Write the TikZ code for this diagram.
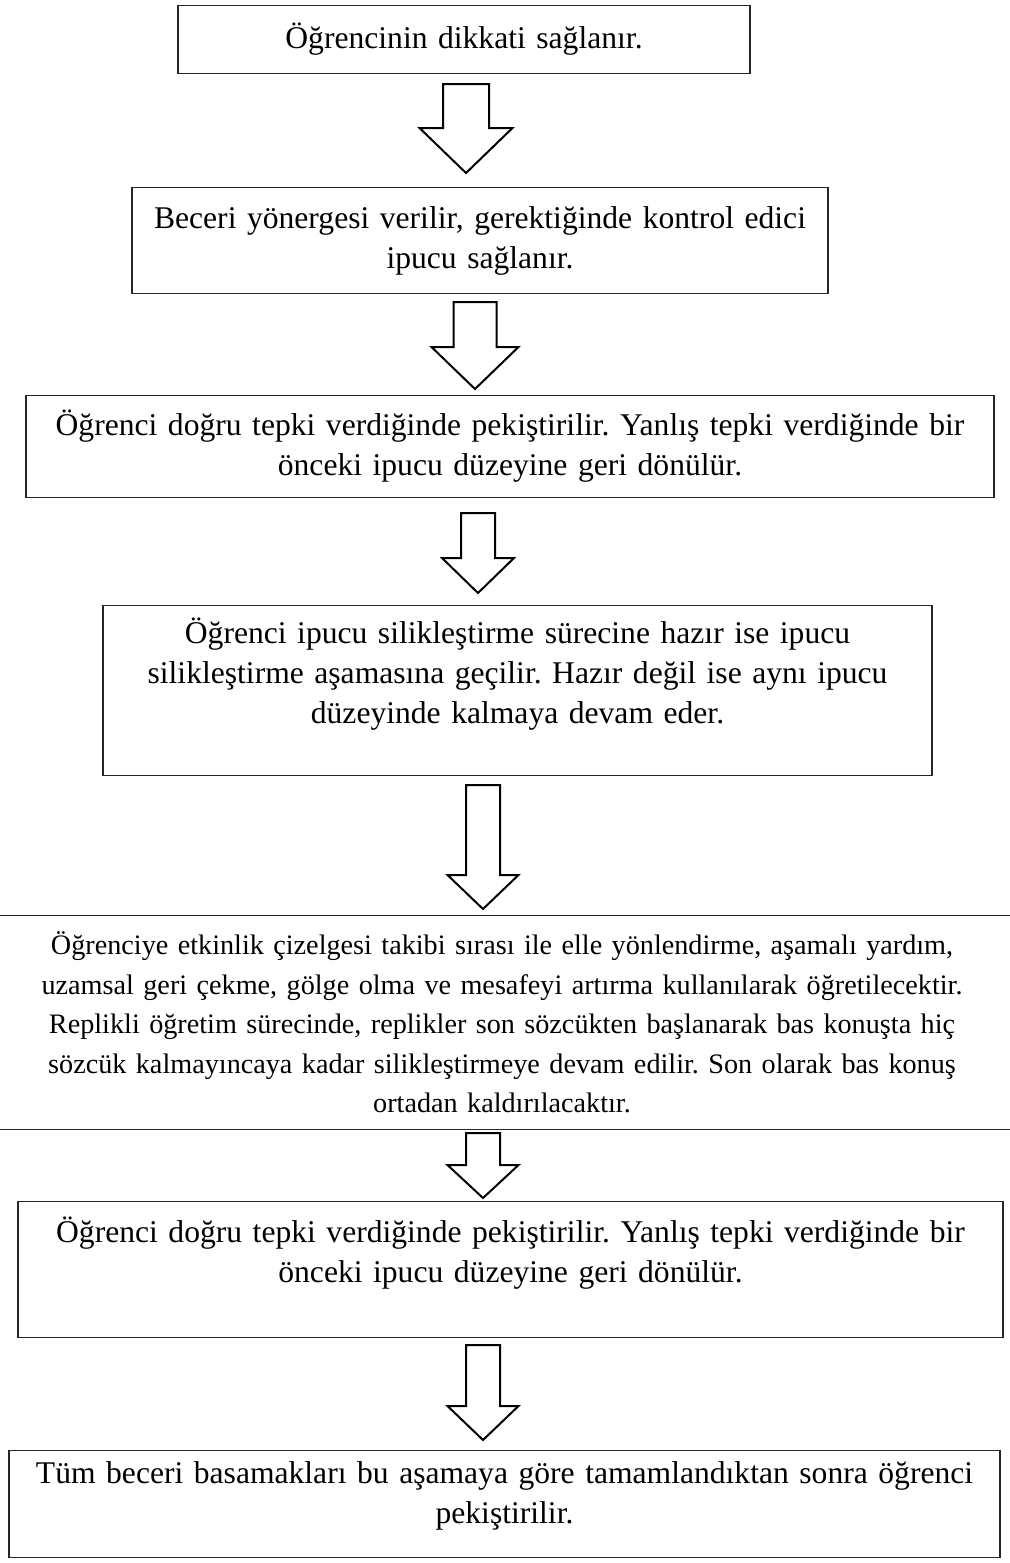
\documentclass[tikz,border=0pt]{standalone}
\usepackage{fontspec}
\setmainfont{Liberation Serif}
\usetikzlibrary{calc}
\frenchspacing

% hollow block arrow between two named coordinates
\newcommand{\blockarrow}[5]{%
  \draw[blockarr] ($(#1)+(-#3,0)$) -- ($(#1)+(#3,0)$) -- ($(#2)+(#3,-#5)$)
    -- ($(#2)+(#4,-#5)$) -- (#2) -- ($(#2)+(-#4,-#5)$) -- ($(#2)+(-#3,-#5)$) -- cycle;}

\begin{document}
\begin{tikzpicture}[
    x=0.5pt, y=-0.5pt,
    every node/.style={font=\fontsize{15.8}{20}\selectfont},
    stepbox/.style={rectangle, draw=black!85, line width=0.6pt, align=center, anchor=north, inner xsep=0pt, inner ysep=0pt},
    blockarr/.style={draw=black, line width=1pt, fill=white, line join=miter}
  ]
  \useasboundingbox (0,0) rectangle (1009,1563);

  % Steps
  \node[stepbox, text width=286pt, minimum height=34pt] (b1) at (464,5) {Öğrencinin dikkati sağlanır.};
  \node[stepbox, text width=348pt, minimum height=53pt] (b2) at (480,187) {Beceri yönergesi verilir, gerektiğinde kontrol edici\\ ipucu sağlanır.};
  \node[stepbox, text width=484pt, minimum height=51pt] (b3) at (510,395) {Öğrenci doğru tepki verdiğinde pekiştirilir. Yanlış tepki verdiğinde bir\\ önceki ipucu düzeyine geri dönülür.};
  \node[stepbox, text width=414.5pt, minimum height=85pt] (b4) at (517.5,605) {Öğrenci ipucu silikleştirme sürecine hazır ise ipucu\\ silikleştirme aşamasına geçilir. Hazır değil ise aynı ipucu\\ düzeyinde kalmaya devam eder.\\ \mbox{}};
  \node[stepbox, text width=527pt, minimum height=107pt, font=\fontsize{14.1}{19.75}\selectfont] (b5) at (502,915) {Öğrenciye etkinlik çizelgesi takibi sırası ile elle yönlendirme, aşamalı yardım,\\ uzamsal geri çekme, gölge olma ve mesafeyi artırma kullanılarak öğretilecektir.\\ Replikli öğretim sürecinde, replikler son sözcükten başlanarak bas konuşta hiç\\ sözcük kalmayıncaya kadar silikleştirmeye devam edilir. Son olarak bas konuş\\ ortadan kaldırılacaktır.};
  \node[stepbox, text width=492.5pt, minimum height=68pt] (b6) at (510.5,1201) {Öğrenci doğru tepki verdiğinde pekiştirilir. Yanlış tepki verdiğinde bir\\ önceki ipucu düzeyine geri dönülür.\\ \mbox{}};
  \node[stepbox, text width=495.5pt, minimum height=53.5pt] (b7) at (504.5,1450) {Tüm beceri basamakları bu aşamaya göre tamamlandıktan sonra öğrenci\\ pekiştirilir.\\[-8pt] \mbox{}};

  % Arrow ends
  \coordinate (a1top) at (466,84);    \coordinate (a1tip) at (466,173);
  \coordinate (a2top) at (475,302);   \coordinate (a2tip) at (475,389);
  \coordinate (a3top) at (478,513);   \coordinate (a3tip) at (478,593);
  \coordinate (a4top) at (483,785);   \coordinate (a4tip) at (483,909);
  \coordinate (a5top) at (483,1133);  \coordinate (a5tip) at (483,1198);
  \coordinate (a6top) at (483,1345);  \coordinate (a6tip) at (483,1440);

  % Arrows
  \blockarrow{a1top}{a1tip}{23}{46.5}{45}
  \blockarrow{a2top}{a2tip}{21.5}{43.5}{42}
  \blockarrow{a3top}{a3tip}{17}{36}{35}
  \blockarrow{a4top}{a4tip}{17}{35.5}{34}
  \blockarrow{a5top}{a5tip}{17}{35.5}{33}
  \blockarrow{a6top}{a6tip}{17}{35.5}{34}
\end{tikzpicture}
\end{document}
